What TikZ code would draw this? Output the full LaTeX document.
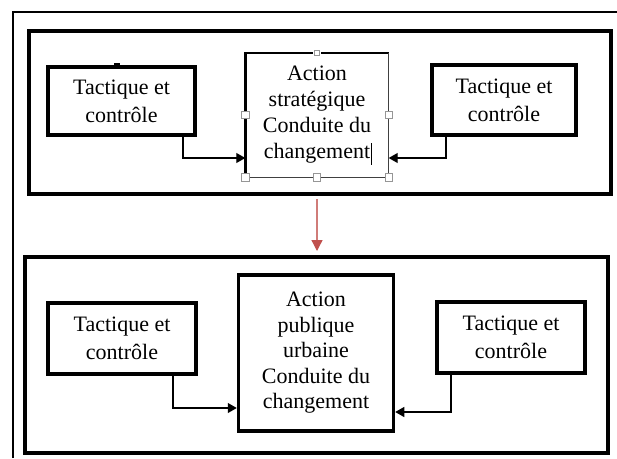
\documentclass[tikz,border=0pt]{standalone}
\usepackage{fontspec}
\setmainfont{Liberation Serif}
\usetikzlibrary{arrows.meta}
\definecolor{flowred}{RGB}{192,80,77}
\definecolor{handlegray}{RGB}{150,150,150}
\tikzset{
  x=1pt, y=1pt,
  framebox/.style={draw, line width=4pt, inner sep=0pt},
  smallbox/.style={draw, line width=3.5pt, align=center, inner sep=0pt,
    font=\fontsize{22}{28}\selectfont},
  bigtext/.style={align=center, inner sep=0pt, font=\fontsize{22}{26}\selectfont},
  conn/.style={line width=1.1pt, -{Triangle[length=9pt,width=10pt]}},
  redarrow/.style={draw=flowred!75, line width=1.3pt,
    -{Triangle[length=11pt,width=11pt,fill=flowred,color=flowred]}},
  handle/.style={draw=handlegray, fill=white, line width=0.7pt,
    minimum size=7.5pt, inner sep=0pt}
}
\begin{document}
\begin{tikzpicture}
\useasboundingbox (0,0) rectangle (617,-458);
% page frame, cut by the image edges
\draw[line width=2pt] (13,-458) -- (13,-12) -- (617,-12);

% ---- upper panel ----
\node[framebox, minimum width=582, minimum height=163] (top) at (320,-112.5) {};
\node[smallbox, minimum width=147, minimum height=68] (tl) at (121.5,-101)
  {Tactique et\\contrôle};
\node[smallbox, minimum width=144, minimum height=70] (tr) at (504,-100)
  {Tactique et\\contrôle};
\node[bigtext, minimum width=143, minimum height=124] (tc) at (317,-115)
  {Action\\stratégique\\Conduite du\\changement};
% selected text box: dark left/top edges, grey right/bottom edges
\draw[line width=2.5pt] (tc.south west) -- (tc.north west) -- ([xshift=-4pt]tc.north);
\draw[line width=2.5pt] ([xshift=4pt]tc.north) -- (tc.north east);
\draw[line width=1.2pt, black!75] (tc.north east) -- (tc.south east) -- (tc.south west);
\foreach \a in {west, east, south west, south, south east}
  \node[handle] (h-\a) at (tc.\a) {};
\node[handle, minimum size=5pt] (h-north) at (tc.north) {};
% text cursor
\coordinate (cur) at (371,-154);
\draw[line width=0.8pt] ([yshift=11pt]cur) -- ([yshift=-11pt]cur);
% small mark on the left box
\fill (114,-63) rectangle (120,-67);

\coordinate (b1) at (183,-158);
\coordinate (b2) at (446,-158);
\draw[conn] (b1 |- tl.south) -- (b1) -- (b1 -| tc.west);
\draw[conn] (b2 |- tr.south) -- (b2) -- (b2 -| tc.east);

% ---- lower panel ----
\node[framebox, minimum width=583, minimum height=196] (bot) at (316.5,-355) {};
\node[smallbox, minimum width=148, minimum height=71] (bl) at (122,-338.5)
  {Tactique et\\contrôle};
\node[smallbox, minimum width=148, minimum height=71] (br) at (511,-337.5)
  {Tactique et\\contrôle};
\node[smallbox, minimum width=155, minimum height=156, font=\fontsize{22}{25.5}\selectfont]
  (bc) at (316,-353) {Action\\publique\\urbaine\\Conduite du\\changement};

\coordinate (b3) at (173,-408);
\coordinate (b4) at (451,-412);
\draw[conn] (b3 |- bl.south) -- (b3) -- (b3 -| bc.west);
\draw[conn] (b4 |- br.south) -- (b4) -- (b4 -| bc.east);

% transition between the panels
\draw[redarrow] ([yshift=-3pt]top.south -| tc.south) -- ([yshift=4pt]bot.north -| tc.south);
\end{tikzpicture}
\end{document}
